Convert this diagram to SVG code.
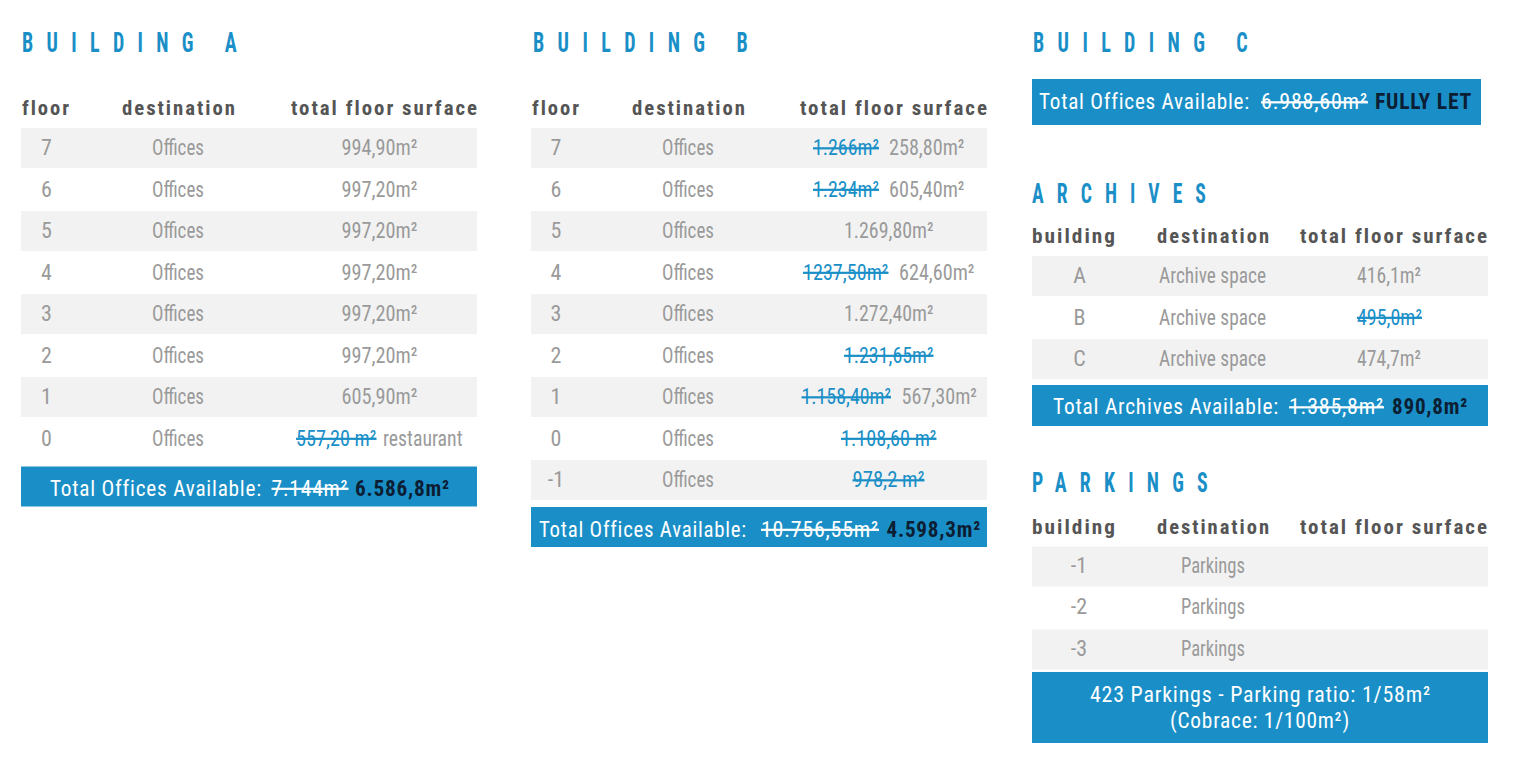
<svg xmlns="http://www.w3.org/2000/svg" width="1513" height="763" viewBox="0 0 1513 763">
<style>
text{font-family:"Liberation Sans Narrow","Roboto Condensed","DejaVu Sans Condensed","Liberation Sans",sans-serif}
.title{font-size:27px;font-weight:bold;fill:#1a8fc7;letter-spacing:18px}
.hd{font-size:21px;font-weight:bold;fill:#555555;letter-spacing:2px}
.c{font-size:22px;fill:#9a9a9a}
.m{text-anchor:middle}
.sk{fill:#1a8fc7;text-decoration:line-through}
.row{fill:#f2f2f2}
.bar{fill:#1a8fc7}
.bt{font-size:22px;fill:#ffffff;letter-spacing:0.8px}
.bs{text-decoration:line-through}
.bb{font-weight:bold;fill:#0c1e33}
</style>
<rect width="1513" height="763" fill="#ffffff"/>

<g id="building-a">
<text class="title" x="22" y="52" textLength="228" lengthAdjust="spacingAndGlyphs">BUILDING A</text>
<text class="hd" x="22" y="115" textLength="49" lengthAdjust="spacingAndGlyphs">floor</text>
<text class="hd" x="122" y="115" textLength="115" lengthAdjust="spacingAndGlyphs">destination</text>
<text class="hd" x="291" y="115" textLength="188" lengthAdjust="spacingAndGlyphs">total floor surface</text>
<rect class="row" x="21" y="128" width="456" height="40"/>
<rect class="row" x="21" y="211" width="456" height="40"/>
<rect class="row" x="21" y="294" width="456" height="40"/>
<rect class="row" x="21" y="377" width="456" height="40"/>
<g class="c">
<text class="m" x="46.5" y="155">7</text>
<text class="m" x="46.5" y="196.5">6</text>
<text class="m" x="46.5" y="238">5</text>
<text class="m" x="46.5" y="279.5">4</text>
<text class="m" x="46.5" y="321">3</text>
<text class="m" x="46.5" y="362.5">2</text>
<text class="m" x="46.5" y="404">1</text>
<text class="m" x="46.5" y="445.5">0</text>
<text x="152" y="155" textLength="52" lengthAdjust="spacingAndGlyphs">Offices</text>
<text x="152" y="196.5" textLength="52" lengthAdjust="spacingAndGlyphs">Offices</text>
<text x="152" y="238" textLength="52" lengthAdjust="spacingAndGlyphs">Offices</text>
<text x="152" y="279.5" textLength="52" lengthAdjust="spacingAndGlyphs">Offices</text>
<text x="152" y="321" textLength="52" lengthAdjust="spacingAndGlyphs">Offices</text>
<text x="152" y="362.5" textLength="52" lengthAdjust="spacingAndGlyphs">Offices</text>
<text x="152" y="404" textLength="52" lengthAdjust="spacingAndGlyphs">Offices</text>
<text x="152" y="445.5" textLength="52" lengthAdjust="spacingAndGlyphs">Offices</text>
<text x="341.5" y="155" textLength="76" lengthAdjust="spacingAndGlyphs">994,90m²</text>
<text x="341.5" y="196.5" textLength="76" lengthAdjust="spacingAndGlyphs">997,20m²</text>
<text x="341.5" y="238" textLength="76" lengthAdjust="spacingAndGlyphs">997,20m²</text>
<text x="341.5" y="279.5" textLength="76" lengthAdjust="spacingAndGlyphs">997,20m²</text>
<text x="341.5" y="321" textLength="76" lengthAdjust="spacingAndGlyphs">997,20m²</text>
<text x="341.5" y="362.5" textLength="76" lengthAdjust="spacingAndGlyphs">997,20m²</text>
<text x="341.5" y="404" textLength="76" lengthAdjust="spacingAndGlyphs">605,90m²</text>
<text class="sk" x="296" y="445.5" textLength="80.5" lengthAdjust="spacingAndGlyphs">557,20 m²</text>
<text x="383" y="445.5" textLength="79.5" lengthAdjust="spacingAndGlyphs">restaurant</text>
</g>
<rect class="bar" x="21" y="466.5" width="456" height="40"/>
<g class="bt">
<text x="50" y="495.5" textLength="212" lengthAdjust="spacingAndGlyphs">Total Offices Available:</text>
<text class="bs" x="271.5" y="495.5" textLength="77" lengthAdjust="spacingAndGlyphs">7.144m²</text>
<text class="bb" x="355" y="495.5" textLength="95" lengthAdjust="spacingAndGlyphs">6.586,8m²</text>
</g>
</g>

<g id="building-b">
<text class="title" x="533" y="52" textLength="228" lengthAdjust="spacingAndGlyphs">BUILDING B</text>
<text class="hd" x="532" y="115" textLength="49" lengthAdjust="spacingAndGlyphs">floor</text>
<text class="hd" x="632" y="115" textLength="115" lengthAdjust="spacingAndGlyphs">destination</text>
<text class="hd" x="800" y="115" textLength="189" lengthAdjust="spacingAndGlyphs">total floor surface</text>
<rect class="row" x="531" y="128" width="456" height="40"/>
<rect class="row" x="531" y="211" width="456" height="40"/>
<rect class="row" x="531" y="294" width="456" height="40"/>
<rect class="row" x="531" y="377" width="456" height="40"/>
<rect class="row" x="531" y="460" width="456" height="40"/>
<g class="c">
<text class="m" x="556" y="155">7</text>
<text class="m" x="556" y="196.5">6</text>
<text class="m" x="556" y="238">5</text>
<text class="m" x="556" y="279.5">4</text>
<text class="m" x="556" y="321">3</text>
<text class="m" x="556" y="362.5">2</text>
<text class="m" x="556" y="404">1</text>
<text class="m" x="556" y="445.5">0</text>
<text class="m" x="556" y="487">-1</text>
<text x="662" y="155" textLength="52" lengthAdjust="spacingAndGlyphs">Offices</text>
<text x="662" y="196.5" textLength="52" lengthAdjust="spacingAndGlyphs">Offices</text>
<text x="662" y="238" textLength="52" lengthAdjust="spacingAndGlyphs">Offices</text>
<text x="662" y="279.5" textLength="52" lengthAdjust="spacingAndGlyphs">Offices</text>
<text x="662" y="321" textLength="52" lengthAdjust="spacingAndGlyphs">Offices</text>
<text x="662" y="362.5" textLength="52" lengthAdjust="spacingAndGlyphs">Offices</text>
<text x="662" y="404" textLength="52" lengthAdjust="spacingAndGlyphs">Offices</text>
<text x="662" y="445.5" textLength="52" lengthAdjust="spacingAndGlyphs">Offices</text>
<text x="662" y="487" textLength="52" lengthAdjust="spacingAndGlyphs">Offices</text>
<text class="sk" x="813" y="155" textLength="66" lengthAdjust="spacingAndGlyphs">1.266m²</text>
<text x="889" y="155" textLength="75.5" lengthAdjust="spacingAndGlyphs">258,80m²</text>
<text class="sk" x="813" y="196.5" textLength="66" lengthAdjust="spacingAndGlyphs">1.234m²</text>
<text x="889" y="196.5" textLength="75.5" lengthAdjust="spacingAndGlyphs">605,40m²</text>
<text x="844" y="238" textLength="89.5" lengthAdjust="spacingAndGlyphs">1.269,80m²</text>
<text class="sk" x="803" y="279.5" textLength="85.5" lengthAdjust="spacingAndGlyphs">1237,50m²</text>
<text x="899" y="279.5" textLength="75.5" lengthAdjust="spacingAndGlyphs">624,60m²</text>
<text x="844" y="321" textLength="89.5" lengthAdjust="spacingAndGlyphs">1.272,40m²</text>
<text class="sk" x="844" y="362.5" textLength="89.5" lengthAdjust="spacingAndGlyphs">1.231,65m²</text>
<text class="sk" x="801.5" y="404" textLength="89.5" lengthAdjust="spacingAndGlyphs">1.158,40m²</text>
<text x="901.5" y="404" textLength="75.5" lengthAdjust="spacingAndGlyphs">567,30m²</text>
<text class="sk" x="841" y="445.5" textLength="95.5" lengthAdjust="spacingAndGlyphs">1.108,60 m²</text>
<text class="sk" x="852.5" y="487" textLength="72" lengthAdjust="spacingAndGlyphs">978,2 m²</text>
</g>
<rect class="bar" x="531" y="507" width="456" height="40"/>
<g class="bt">
<text x="539" y="536.5" textLength="208" lengthAdjust="spacingAndGlyphs">Total Offices Available:</text>
<text class="bs" x="761" y="536.5" textLength="118" lengthAdjust="spacingAndGlyphs">10.756,55m²</text>
<text class="bb" x="886.5" y="536.5" textLength="94.5" lengthAdjust="spacingAndGlyphs">4.598,3m²</text>
</g>
</g>

<g id="building-c">
<text class="title" x="1033" y="52" textLength="228" lengthAdjust="spacingAndGlyphs">BUILDING C</text>
<rect class="bar" x="1032" y="79" width="449" height="46"/>
<g class="bt">
<text x="1039" y="109" textLength="211" lengthAdjust="spacingAndGlyphs">Total Offices Available:</text>
<text class="bs" x="1261" y="109" textLength="107" lengthAdjust="spacingAndGlyphs">6.988,60m²</text>
<text class="bb" x="1375" y="109" textLength="97" lengthAdjust="spacingAndGlyphs">FULLY LET</text>
</g>
</g>

<g id="archives">
<text class="title" x="1032" y="203" textLength="187" lengthAdjust="spacingAndGlyphs">ARCHIVES</text>
<text class="hd" x="1032" y="243" textLength="85" lengthAdjust="spacingAndGlyphs">building</text>
<text class="hd" x="1157" y="243" textLength="114" lengthAdjust="spacingAndGlyphs">destination</text>
<text class="hd" x="1300" y="243" textLength="189" lengthAdjust="spacingAndGlyphs">total floor surface</text>
<rect class="row" x="1032" y="256" width="456" height="40"/>
<rect class="row" x="1032" y="339" width="456" height="40"/>
<g class="c">
<text class="m" x="1079.5" y="283">A</text>
<text class="m" x="1079.5" y="324.5">B</text>
<text class="m" x="1079.5" y="366">C</text>
<text x="1159" y="283" textLength="107" lengthAdjust="spacingAndGlyphs">Archive space</text>
<text x="1159" y="324.5" textLength="107" lengthAdjust="spacingAndGlyphs">Archive space</text>
<text x="1159" y="366" textLength="107" lengthAdjust="spacingAndGlyphs">Archive space</text>
<text x="1357" y="283" textLength="64" lengthAdjust="spacingAndGlyphs">416,1m²</text>
<text class="sk" x="1357" y="324.5" textLength="65" lengthAdjust="spacingAndGlyphs">495,0m²</text>
<text x="1357" y="366" textLength="64" lengthAdjust="spacingAndGlyphs">474,7m²</text>
</g>
<rect class="bar" x="1032" y="385" width="456" height="41"/>
<g class="bt">
<text x="1053" y="414" textLength="226" lengthAdjust="spacingAndGlyphs">Total Archives Available:</text>
<text class="bs" x="1289" y="414" textLength="95" lengthAdjust="spacingAndGlyphs">1.385,8m²</text>
<text class="bb" x="1392" y="414" textLength="76" lengthAdjust="spacingAndGlyphs">890,8m²</text>
</g>
</g>

<g id="parkings">
<text class="title" x="1032" y="492" textLength="189" lengthAdjust="spacingAndGlyphs">PARKINGS</text>
<text class="hd" x="1032" y="534" textLength="85" lengthAdjust="spacingAndGlyphs">building</text>
<text class="hd" x="1157" y="534" textLength="114" lengthAdjust="spacingAndGlyphs">destination</text>
<text class="hd" x="1300" y="534" textLength="189" lengthAdjust="spacingAndGlyphs">total floor surface</text>
<rect class="row" x="1032" y="546.5" width="456" height="40"/>
<rect class="row" x="1032" y="629.5" width="456" height="40"/>
<g class="c">
<text class="m" x="1079" y="572.5">-1</text>
<text class="m" x="1079" y="614">-2</text>
<text class="m" x="1079" y="655.5">-3</text>
<text x="1181" y="572.5" textLength="64" lengthAdjust="spacingAndGlyphs">Parkings</text>
<text x="1181" y="614" textLength="64" lengthAdjust="spacingAndGlyphs">Parkings</text>
<text x="1181" y="655.5" textLength="64" lengthAdjust="spacingAndGlyphs">Parkings</text>
</g>
<rect class="bar" x="1032" y="672" width="456" height="71"/>
<g class="bt">
<text x="1090" y="701.5" textLength="341" lengthAdjust="spacingAndGlyphs">423 Parkings - Parking ratio: 1/58m²</text>
<text x="1170" y="727.5" textLength="180" lengthAdjust="spacingAndGlyphs">(Cobrace: 1/100m²)</text>
</g>
</g>
</svg>
